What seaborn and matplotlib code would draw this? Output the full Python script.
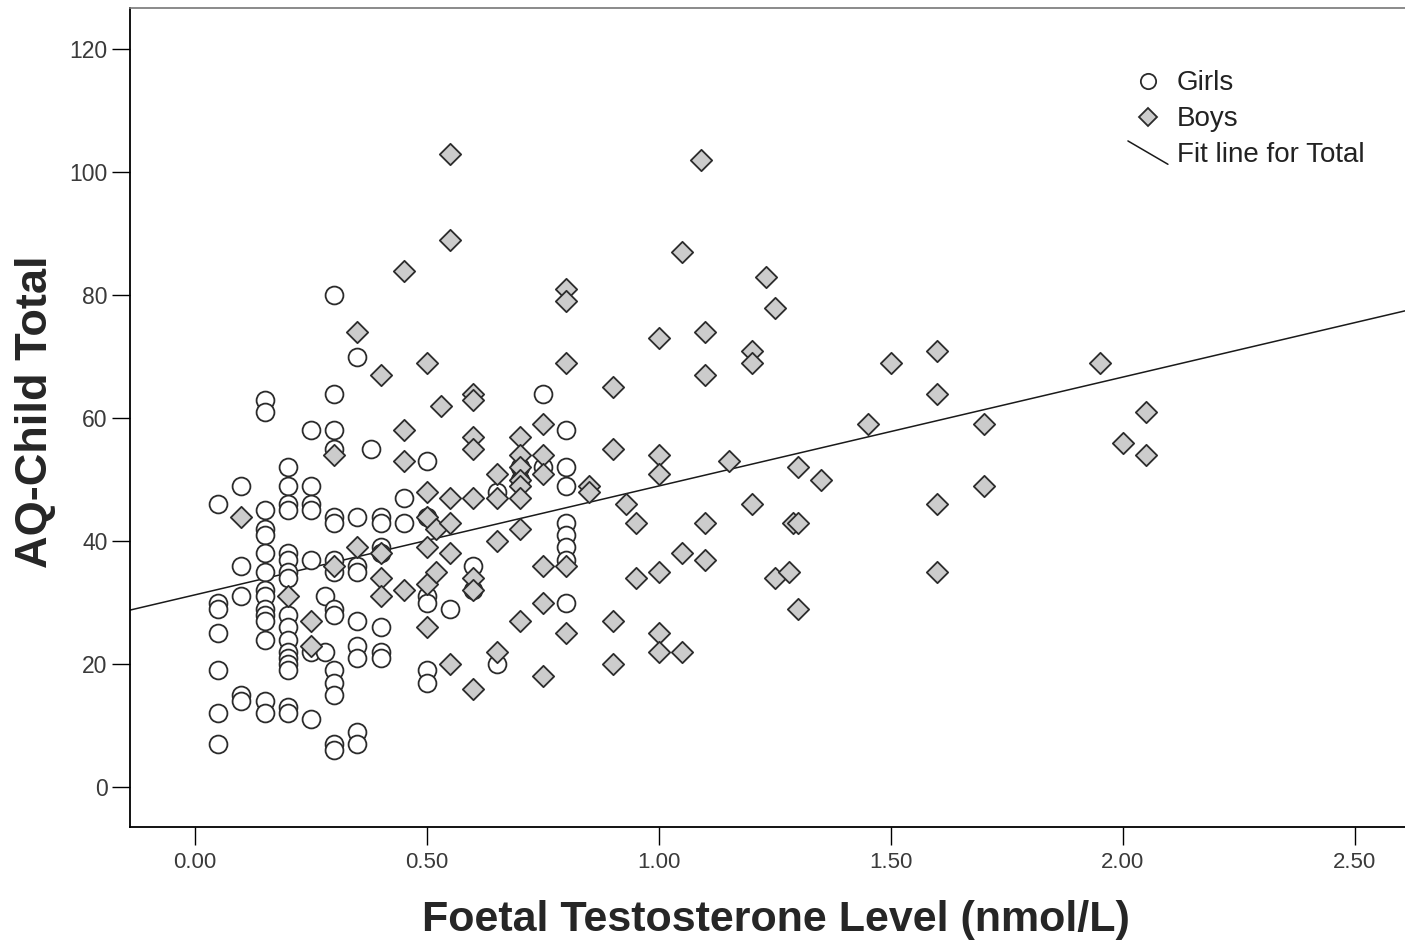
import matplotlib
matplotlib.use("Agg")
import matplotlib.pyplot as plt
import seaborn as sns
import pandas as pd
from matplotlib.lines import Line2D
from matplotlib.legend_handler import HandlerLine2D
from matplotlib.ticker import FormatStrFormatter, MultipleLocator

# Girls: foetal testosterone (nmol/L) and AQ-Child total
girls_ft = ([0.05] * 7 + [0.10] * 5 + [0.15] * 15 + [0.20] * 17 + [0.25] * 7 + [0.28] * 2
            + [0.30] * 15 + [0.35] * 9 + [0.38] + [0.40] * 7 + [0.45] * 2 + [0.50] * 6
            + [0.55] + [0.60] * 2 + [0.65] * 2 + [0.70] * 2 + [0.75] * 2 + [0.80] * 8)
girls_aq = [46, 30, 29, 25, 19, 12, 7,
            49, 36, 31, 15, 14,
            63, 61, 45, 42, 41, 38, 35, 32, 31, 29, 28, 27, 24, 14, 12,
            52, 49, 46, 45, 38, 37, 35, 34, 28, 26, 24, 22, 21, 20, 19, 13, 12,
            58, 49, 46, 45, 37, 22, 11,
            31, 22,
            80, 64, 58, 55, 44, 43, 37, 35, 29, 28, 19, 17, 15, 7, 6,
            70, 44, 36, 35, 27, 23, 21, 9, 7,
            55,
            44, 43, 39, 38, 26, 22, 21,
            47, 43,
            53, 44, 31, 30, 19, 17,
            29,
            36, 32,
            48, 20,
            52, 50,
            64, 52,
            58, 52, 49, 43, 41, 39, 37, 30]

# Boys
boys_ft = ([0.10] + [0.20] + [0.25] * 2 + [0.30] * 2 + [0.35] * 2 + [0.40] * 4 + [0.45] * 4
           + [0.50] * 6 + [0.52] * 2 + [0.53] + [0.55] * 6 + [0.60] * 8 + [0.65] * 4
           + [0.70] * 8 + [0.75] * 6 + [0.80] * 5 + [0.85] * 2 + [0.90] * 4 + [0.93]
           + [0.95] * 2 + [1.00] * 6 + [1.05] * 3 + [1.09] + [1.10] * 4 + [1.15]
           + [1.20] * 3 + [1.23] + [1.25] * 2 + [1.28] + [1.29] + [1.30] * 3 + [1.35]
           + [1.45] + [1.50] + [1.60] * 4 + [1.70] * 2 + [1.95] + [2.00] + [2.05] * 2)
boys_aq = [44,
           31,
           27, 23,
           54, 36,
           74, 39,
           67, 38, 34, 31,
           84, 58, 53, 32,
           69, 48, 44, 39, 33, 26,
           42, 35,
           62,
           103, 89, 47, 43, 38, 20,
           64, 63, 57, 55, 47, 34, 32, 16,
           51, 47, 40, 22,
           57, 54, 52, 50, 49, 47, 42, 27,
           59, 54, 51, 36, 30, 18,
           81, 79, 69, 36, 25,
           49, 48,
           65, 55, 27, 20,
           46,
           43, 34,
           73, 54, 51, 35, 25, 22,
           87, 38, 22,
           102,
           74, 67, 43, 37,
           53,
           71, 69, 46,
           83,
           78, 34,
           35,
           43,
           52, 43, 29,
           50,
           59,
           69,
           71, 64, 46, 35,
           59, 49,
           69,
           56,
           61, 54]

girls = pd.DataFrame({"ft": girls_ft, "aq": girls_aq})
boys = pd.DataFrame({"ft": boys_ft, "aq": boys_aq})
total = pd.concat([girls, boys], ignore_index=True)


class HandlerSlantLine(HandlerLine2D):
    # SPSS-style slanted fit line symbol in the legend
    def create_artists(self, legend, orig_handle, xdescent, ydescent, width, height, fontsize, trans):
        mid = height / 2 - ydescent
        line = Line2D([-xdescent, width - xdescent], [mid + 0.6 * height, mid - 0.6 * height])
        self.update_prop(line, orig_handle, legend)
        line.set_transform(trans)
        return [line]


sns.set_style("white")
plt.rcParams["font.family"] = ["Liberation Sans", "DejaVu Sans"]

fig = plt.figure(figsize=(14.05, 9.41), dpi=100)
ax = fig.add_axes([0.0925, 0.1211, 0.9075, 0.8703])

ax.set_xlim(-0.14, 2.608)
ax.set_ylim(-6.5, 126.7)

sns.scatterplot(data=girls, x="ft", y="aq", marker="o", s=165, color="white",
                edgecolor="#2b2b2b", linewidth=1.3, ax=ax, zorder=3, legend=False)
sns.scatterplot(data=boys, x="ft", y="aq", marker="D", s=118, color="#cccccc",
                edgecolor="#2b2b2b", linewidth=1.3, ax=ax, zorder=4, legend=False)
sns.regplot(data=total, x="ft", y="aq", scatter=False, ci=None, truncate=False,
            color="#1a1a1a", line_kws={"linewidth": 1.1, "zorder": 2}, ax=ax)

ax.xaxis.set_major_locator(MultipleLocator(0.5))
ax.xaxis.set_major_formatter(FormatStrFormatter("%.2f"))
ax.yaxis.set_major_locator(MultipleLocator(20))
ax.set_xlim(-0.14, 2.608)
ax.set_ylim(-6.5, 126.7)

ax.tick_params(axis="both", bottom=True, left=True, direction="out", length=13,
               width=1.0, color="black", labelcolor="#3a3a3a")
ax.tick_params(axis="x", pad=5, labelsize=16)
ax.tick_params(axis="y", pad=3, labelsize=16.5)

for side in ["left", "bottom"]:
    ax.spines[side].set_color("black")
    ax.spines[side].set_linewidth(1.3)
ax.spines["top"].set_color("#777777")
ax.spines["top"].set_linewidth(1.2)
ax.spines["right"].set_visible(False)

ax.set_xlabel("Foetal Testosterone Level (nmol/L)", fontsize=31, fontweight="bold")
ax.set_ylabel("AQ-Child Total", fontsize=32.5, fontweight="bold")
ax.xaxis.set_label_coords(0.507, -0.089)
ax.yaxis.set_label_coords(-0.058, 0.507)

handles = [
    Line2D([], [], linestyle="none", marker="o", markersize=11, markerfacecolor="white",
           markeredgecolor="#2b2b2b", markeredgewidth=1.3),
    Line2D([], [], linestyle="none", marker="D", markersize=9.5, markerfacecolor="#cccccc",
           markeredgecolor="#2b2b2b", markeredgewidth=1.3),
    Line2D([], [], color="#1a1a1a", linewidth=1.1),
]
leg = ax.legend(handles, ["Girls", "Boys", "Fit line for Total"],
                handler_map={handles[2]: HandlerSlantLine()},
                loc="upper left", bbox_to_anchor=(0.7827, 0.924), frameon=False,
                fontsize=20, handlelength=1.44, handletextpad=0.32, labelspacing=0.36,
                borderpad=0, borderaxespad=0)
for t in leg.get_texts():
    t.set_color("#222222")

fig.savefig("out.png", dpi=100)
